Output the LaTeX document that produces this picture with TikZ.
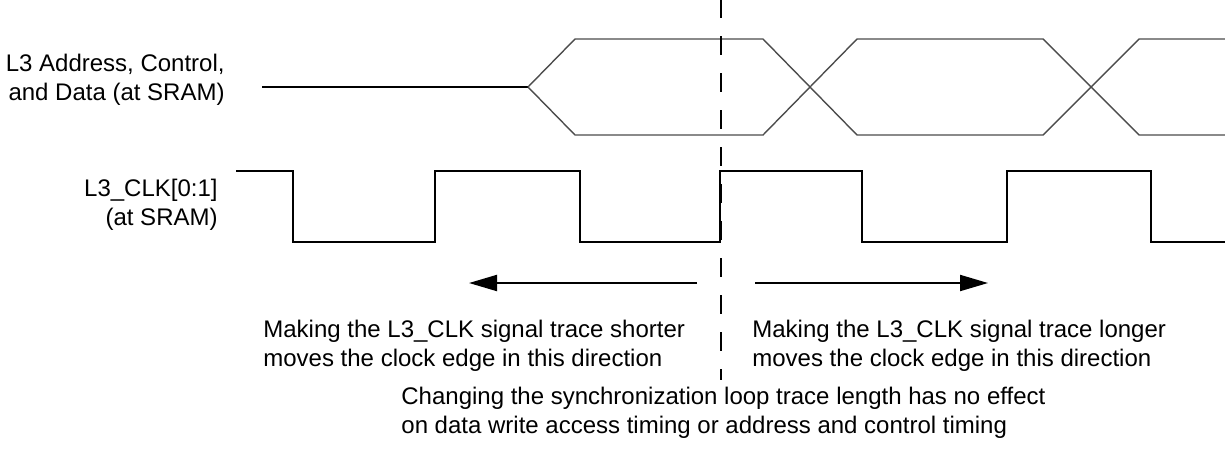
\documentclass[tikz,border=0pt]{standalone}
\usepackage{fontspec}
\setmainfont{Liberation Sans}
\usepackage{tikz}
\usetikzlibrary{arrows.meta}

\begin{document}
\begin{tikzpicture}[x=0.5pt,y=-0.5pt,
	lbl/.style={inner sep=0pt,font=\fontsize{12}{14.5}\selectfont},
	bus/.style={line width=0.7pt,black!70},
	clk/.style={line width=1pt,black},
	shift arrow/.style={line width=1pt,-{Triangle[length=14pt,width=8pt]}}]
	\useasboundingbox (0,0) rectangle (1225,456);
	% data bus
	\draw[clk] (262,87)--(528,87);
	\draw[bus] (528,87)--(575,39)--(763,39)--(857,135)--(1043,135)--(1139,39)--(1225,39);
	\draw[bus] (528,87)--(575,135)--(763,135)--(857,39)--(1043,39)--(1139,135)--(1225,135);
	% clock
	\draw[clk] (236,171)--(293,171)--(293,242)--(435,242)--(435,171)--(580,171)--(580,242)
		--(720,242)--(720,171)--(862,171)--(862,242)--(1007,242)--(1007,171)--(1151,171)
		--(1151,242)--(1225,242);
	% reference edge
	\draw[line width=1pt,dash pattern=on 9.5pt off 9pt] (721,-1)--(721,380);
	% labels
	\node[lbl,anchor=east,align=right] (datalbl) at (225,80) {L3 Address, Control,\\and Data (at SRAM)};
	\node[lbl,anchor=east,align=right] (clklbl) at (218,205) {L3\_CLK[0:1]\\(at SRAM)};
	% direction arrows
	\coordinate (lfrom) at (697,283);
	\coordinate (lto) at (469,283);
	\coordinate (rfrom) at (755,283);
	\coordinate (rto) at (988,283);
	\draw[shift arrow] (lfrom)--(lto);
	\draw[shift arrow] (rfrom)--(rto);
	\node[lbl,anchor=west,align=left] (shorter) at (263,346) {Making the L3\_CLK signal trace shorter\\moves the clock edge in this direction};
	\node[lbl,anchor=west,align=left] (longer) at (752,346) {Making the L3\_CLK signal trace longer\\moves the clock edge in this direction};
	\node[lbl,anchor=west,align=left] (noeffect) at (401,413) {Changing the synchronization loop trace length has no effect\\on data write access timing or address and control timing};
\end{tikzpicture}
\end{document}
